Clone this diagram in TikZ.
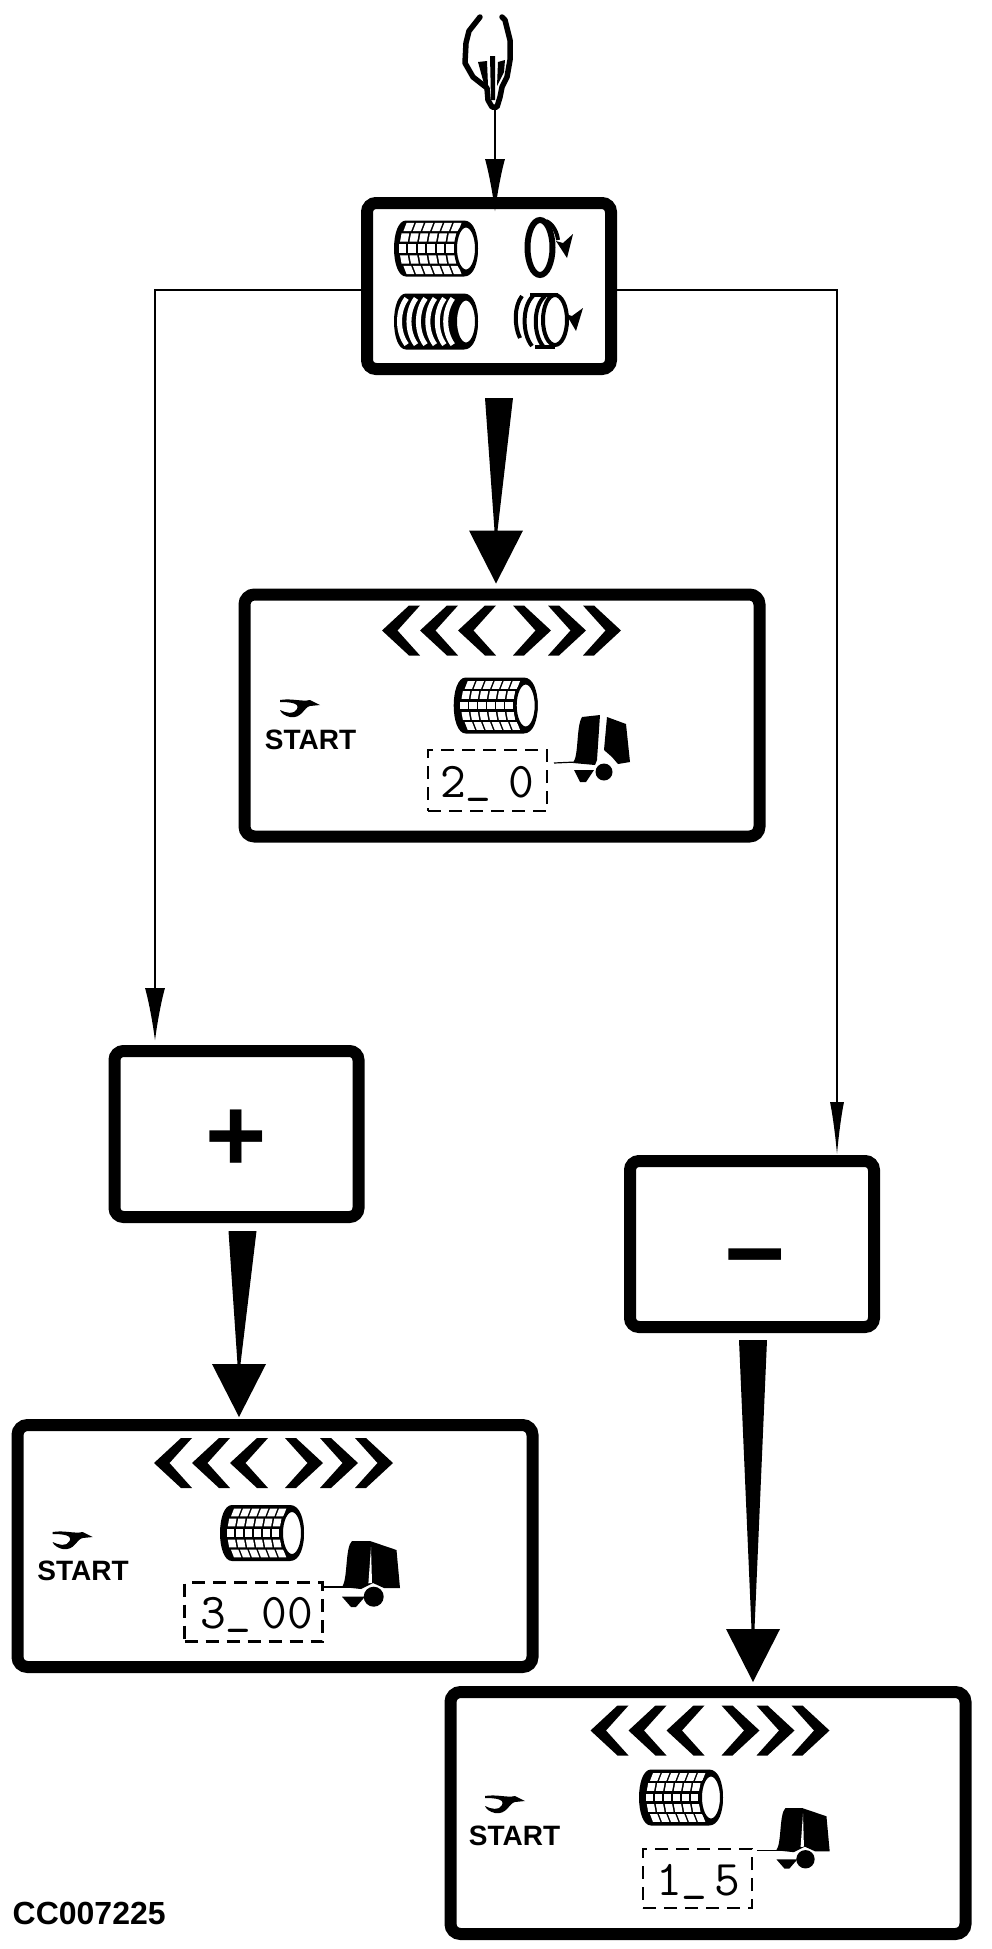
\documentclass[tikz,border=0pt]{standalone}
\usepackage{fontspec}
\setmainfont{Liberation Sans}
\usetikzlibrary{arrows.meta,calc}
\newcommand{\wedgearrow}[2]{\fill ($(#1)+(-14,0)$) -- ($(#1)+(14,0)$) -- ($(#2)+(1.5,-53)$) -- ($(#2)+(27,-53)$) -- (#2) -- ($(#2)+(-27,-53)$) -- ($(#2)+(-1.5,-53)$) -- cycle;}
\newcommand{\dashchar}{\raisebox{6pt}{\char"5F}}
\tikzset{
    rollbody/.pic={
        \fill (-30,-28) -- (28,-28) .. controls (38,-28) and (42,-14) .. (42,0) .. controls (42,14) and (38,28) .. (28,28) -- (-30,28) .. controls (-38,28) and (-42,14) .. (-42,0) .. controls (-42,-14) and (-38,-28) .. (-30,-28) -- cycle;
    },
    rollend/.pic={
        \draw[fill=white, line width=3pt] (30,0) ellipse [x radius=10.5, y radius=22.5];
    },
    netroll/.pic={
        \pic {rollbody};
        \foreach \c in {-32,-23,-14,-5,4,13}
            \foreach \r/\b/\t in {-20.5/6/1.5,-10.5/2/0.7,0/0/0,10.5/2/-0.7,20.5/6/-1.5}
                \fill[white] (\c+\b-3.5+\t,\r-3.9) -- (\c+\b+3.8+\t,\r-3.9) -- (\c+\b+3.8-\t,\r+3.9) -- (\c+\b-3.5-\t,\r+3.9) -- cycle;
        \pic {rollend};
    },
    sliceroll/.pic={
        \pic {rollbody};
        \foreach \c in {-33,-24,-15,-6,3,11}
            \draw[white, line width=5pt] (\c+5,-22) .. controls (\c-4,-10) and (\c-4,10) .. (\c+5,22);
        \pic {rollend};
    },
    chevrons/.pic={
        \foreach \s in {0,38,76}
            \fill (\s,0) -- (\s+27,-25) -- (\s+38,-25) -- (\s+15.5,0) -- (\s+38,25) -- (\s+27,25) -- cycle;
        \foreach \s in {239,204,169}
            \fill (\s,0) -- (\s-27,-25) -- (\s-38,-25) -- (\s-15.5,0) -- (\s-38,25) -- (\s-27,25) -- cycle;
    },
    pointer/.pic={
        \fill (0,1) .. controls (12,-1) and (22,3) .. (30,1) -- (40,6) -- (30,7) .. controls (24,8) and (22,20) .. (10,18) .. controls (5,17) and (1,14) .. (0,11) .. controls (6,14) and (14,16) .. (17,10) .. controls (20,4) and (10,3) .. (0,3) -- cycle;
    },
    baler/.pic={
        \fill (19,48) .. controls (25,40) and (22,12) .. (28,2) -- (46,0) -- (43,45) -- (41,50) -- cycle;
        \fill (53,2) -- (72,9) -- (76,47) -- (64,49) -- (58,42) -- (50,35) -- cycle;
        \draw[line width=1.2pt] (0,48) -- (22,47);
        \fill (20,55) -- (40,55) -- (32,67) -- (26,67) -- cycle;
        \fill (50,57) circle [radius=8.5];
    },
    balerfull/.pic={
        \fill (21,46) .. controls (27,38) and (24,6) .. (31,0) -- (49,0) -- (75.5,9) -- (79,47) -- (63,47) -- (52,42) -- (40,48) -- cycle;
        \fill[white] (50,6) -- (47.4,42.3) -- (51,42) -- cycle;
        \draw[line width=1.2pt] (0,46) -- (40,46);
        \fill (21,55.7) -- (44,55.7) -- (35,66) -- (30,66) -- cycle;
        \fill (52.7,55.7) circle [radius=10];
    },
}
\begin{document}
\begin{tikzpicture}[x=1pt, y=-1pt,
    keybox/.style={draw, line width=12pt, rounded corners=9pt, inner sep=0pt, minimum width=244pt, minimum height=166pt},
    dispbox/.style={draw, line width=12pt, rounded corners=10pt, inner sep=0pt, minimum width=515pt, minimum height=242pt},
    dashbox/.style={draw, line width=2.5pt, dash pattern=on 13pt off 8pt, inner sep=0pt},
    startlabel/.style={inner sep=0pt, font=\bfseries\fontsize{28}{28}\selectfont},
    readout/.style={anchor=base west, inner sep=0pt, font=\ttfamily\fontsize{50}{50}\selectfont},
    sign/.style={inner sep=0pt, font=\bfseries\fontsize{105}{105}\selectfont},
    thinarrow/.style={line width=2pt, -{Latex[length=53pt, width=20pt]}},
    slimarrow/.style={line width=2pt, -{Latex[length=53pt, width=14pt]}}]
    \useasboundingbox (0,0) rectangle (992,1949);

    \node[keybox] (topbox) at (489,286) {};
    \node[keybox] (plusbox) at (236.5,1134) {};
    \node[keybox] (minusbox) at (752,1244) {};
    \node[dispbox] (dispa) at (502,715.5) {};
    \node[dispbox] (dispb) at (275,1546) {};
    \node[dispbox] (dispc) at (708,1813) {};

    \node[sign] (plussign) at (236,1141) {+};
    \node[sign] (minussign) at (755,1269) {−};

    \coordinate (hand) at (495,108);
    \fill (478,62) -- (484,84) -- (488,86) -- (487,61) -- cycle;
    \fill (490,56) -- (491,100) -- (495,100) -- (495,56) -- cycle;
    \fill (498,62) -- (497,86) -- (504,72) -- (505,60) -- cycle;
    \draw[line width=5.5pt, line join=round, line cap=round] (480,17) -- (469,31) -- (466,43) -- (465,63) -- (473,77) -- (487,88) -- (488,100) -- (492,107) -- (497,107) -- (500,97) -- (502,87) -- (507,77) -- (510,60) -- (510,40) -- (505,20) -- (502,17);
    \draw[thinarrow, shorten >=-15pt] (hand) -- (topbox.north -| hand);

    \coordinate (lbend) at (155,290);
    \coordinate (rbend) at (837,290);
    \draw[thinarrow, shorten >=4pt] (lbend -| topbox.west) -- (lbend) -- (plusbox.north -| lbend);
    \draw[slimarrow] (rbend -| topbox.east) -- (rbend) -- (minusbox.north -| rbend);

    \pic[scale=1.05] at (436,248.5) {netroll};
    \pic[scale=1.05] at (436,321.5) {sliceroll};
    \draw[line width=6pt] (540,247.5) ellipse [x radius=12.5, y radius=27.5];
    \draw[line width=4pt] (546,221) .. controls (553,224) and (557,232) .. (558,240);
    \fill (573,234) -- (567,258) -- (556,241) -- (563,243) -- cycle;
    \draw[line width=4pt] (555,320) ellipse [x radius=12, y radius=25];
    \draw[line width=4pt] (522,296) .. controls (514,306) and (514,326) .. (520,338);
    \draw[line width=4pt] (533,296) .. controls (522,306) and (522,334) .. (532,346);
    \draw[line width=4pt] (545,296) .. controls (533,306) and (533,334) .. (543,346);
    \draw[line width=4pt] (530,295) -- (558,295);
    \draw[line width=4pt] (535,347) -- (555,347);
    \fill (583,308) -- (576,331) -- (566,314) -- (572,316) -- cycle;

    \coordinate (wedgea) at (499,398);
    \coordinate (tipa) at ([xshift=-6pt, yshift=5pt]dispa.north);
    \wedgearrow{wedgea}{tipa}
    \coordinate (wedgeb) at (242.5,1231);
    \coordinate (tipb) at ([xshift=-36pt, yshift=2pt]dispb.north);
    \wedgearrow{wedgeb}{tipb}
    \coordinate (wedgec) at (753,1340);
    \coordinate (tipc) at ([xshift=45pt, yshift=4pt]dispc.north);
    \wedgearrow{wedgec}{tipc}

    \pic at (382,630.5) {chevrons};
    \pic at (495.7,705.5) {netroll};
    \pic at (280,699) {pointer};
    \pic at (554,715) {baler};
    \node[startlabel] (starta) at (310.5,740) {START};
    \node[dashbox, minimum width=119pt, minimum height=61pt] (dasha) at (487.5,780.5) {};
    \node[readout] (reada) at (440,797) {2\dashchar{} \kern-9pt0};

    \pic at (154,1463) {chevrons};
    \pic at (262,1533) {netroll};
    \pic at (52.6,1531) {pointer};
    \pic at (321,1541) {balerfull};
    \node[startlabel] (startb) at (83,1571) {START};
    \node[dashbox, minimum width=138pt, minimum height=59pt] (dashb) at (253.5,1612) {};
    \node[readout] (readb) at (200,1628) {3\dashchar{} \kern-16pt00};

    \pic at (590.5,1730.5) {chevrons};
    \pic at (681,1797.5) {netroll};
    \pic at (485,1795) {pointer};
    \pic[scale=0.92] at (757,1808) {balerfull};
    \node[startlabel] (startc) at (514.5,1835.5) {START};
    \node[dashbox, minimum width=109pt, minimum height=59pt] (dashc) at (697.5,1878.5) {};
    \node[readout] (readc) at (656,1895) {1\dashchar{} \kern-19pt5};

    \node[anchor=west, inner sep=0pt, font=\bfseries\fontsize{32}{32}\selectfont] (figcode) at (12.5,1913.5) {CC007225};
\end{tikzpicture}
\end{document}
